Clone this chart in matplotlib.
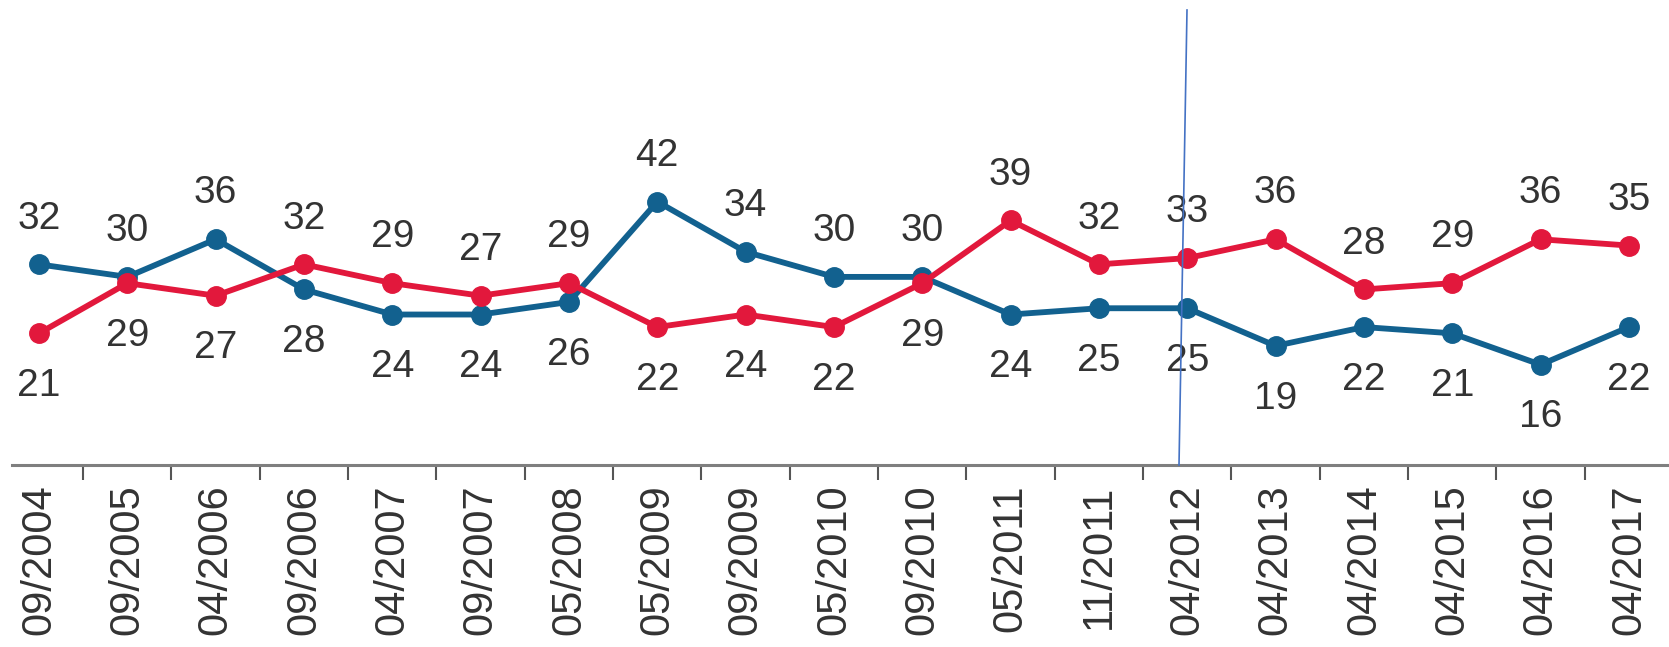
import matplotlib
matplotlib.use("Agg")
import matplotlib.pyplot as plt
from matplotlib.lines import Line2D

dates = ["09/2004", "09/2005", "04/2006", "09/2006", "04/2007", "09/2007",
         "05/2008", "05/2009", "09/2009", "05/2010", "09/2010", "05/2011",
         "11/2011", "04/2012", "04/2013", "04/2014", "04/2015", "04/2016",
         "04/2017"]
blue_vals = [32, 30, 36, 28, 24, 24, 26, 42, 34, 30, 30, 24, 25, 25, 19, 22, 21, 16, 22]
red_vals = [21, 29, 27, 32, 29, 27, 29, 22, 24, 22, 29, 39, 32, 33, 36, 28, 29, 36, 35]

BLUE = "#12618F"
RED = "#E2183C"
TEXT = "#333333"

plt.rcParams["font.family"] = ["Liberation Sans", "DejaVu Sans"]

W, H = 1669, 647
fig = plt.figure(figsize=(W / 100, H / 100), dpi=100)
ax = fig.add_axes([12 / W, (H - 465) / H, 1 - 12 / W, 465 / H])

x = list(range(len(dates)))
ax.plot(x, blue_vals, color=BLUE, lw=4.2, marker="o", ms=14, zorder=3)
ax.plot(x, red_vals, color=RED, lw=4.2, marker="o", ms=14, zorder=3)

for i, (b, r) in enumerate(zip(blue_vals, red_vals)):
    b_up = b >= r
    ax.annotate(str(b), (i, b), xytext=(0, 33 if b_up else -38),
                textcoords="offset points", ha="center", va="center",
                fontsize=28, color=TEXT)
    ax.annotate(str(r), (i, r), xytext=(0, -38 if b_up else 33),
                textcoords="offset points", ha="center", va="center",
                fontsize=28, color=TEXT)

ax.set_ylim(0, 465 / 6.27)
ax.set_xlim(-27 / 88.33, (W - 39) / 88.33)
ax.set_yticks([])
ax.set_xticks(x)
ax.set_xticklabels(dates, rotation=90, fontsize=30, color=TEXT)
ax.set_xticks([i + 0.5 for i in range(len(dates) - 1)], minor=True)
ax.tick_params(axis="x", which="major", length=0, pad=14)
ax.tick_params(axis="x", which="minor", length=11, width=1.5, color="#555555", direction="out")
for s in ["top", "left", "right"]:
    ax.spines[s].set_visible(False)
ax.spines["bottom"].set_color("#7f7f7f")
ax.spines["bottom"].set_linewidth(2.2)

# thin marker line drawn over the chart
fig.add_artist(Line2D([1187 / W, 1179 / W], [1 - 10 / H, 1 - 465 / H],
                      color="#4472C4", lw=1.2, zorder=5))

fig.savefig("out.png", dpi=100)
